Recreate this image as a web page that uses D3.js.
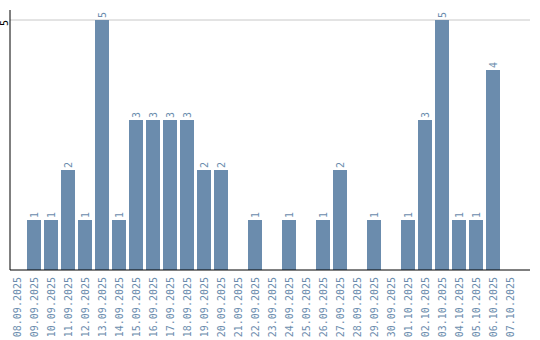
<!DOCTYPE html>
<html>
<head>
<meta charset="utf-8">
<script src="https://cdn.jsdelivr.net/npm/d3@7"></script>
<style>
  body { margin: 0; background: #fff; }
  text { font-family: "DejaVu Sans Mono", monospace; font-size: 10px; }
</style>
</head>
<body>
<svg id="chart" width="540" height="340"></svg>
<script>
var dates = ["08.09.2025", "09.09.2025", "10.09.2025", "11.09.2025", "12.09.2025", "13.09.2025",
  "14.09.2025", "15.09.2025", "16.09.2025", "17.09.2025", "18.09.2025", "19.09.2025",
  "20.09.2025", "21.09.2025", "22.09.2025", "23.09.2025", "24.09.2025", "25.09.2025",
  "26.09.2025", "27.09.2025", "28.09.2025", "29.09.2025", "30.09.2025", "01.10.2025",
  "02.10.2025", "03.10.2025", "04.10.2025", "05.10.2025", "06.10.2025", "07.10.2025"];
var counts = [0, 1, 1, 2, 1, 5, 1, 3, 3, 3, 3, 2, 2, 0, 1, 0, 1, 0, 1, 2, 0, 1, 0, 1, 3, 5, 1, 1, 4, 0];
var yTicks = [5];

var color = "#6b8cad";
var svg = d3.select("#chart");

var x = d3.scaleBand()
  .domain(dates)
  .range([8.5, 518.5])
  .paddingInner(3 / 17)
  .paddingOuter(3 / 34);

var y = d3.scaleLinear().domain([0, 5.2]).range([270, 10]);

// gridline
svg.append("g")
  .selectAll("line")
  .data(yTicks)
  .enter()
  .append("line")
  .attr("x1", 10)
  .attr("x2", 530)
  .attr("y1", d => y(d))
  .attr("y2", d => y(d))
  .attr("stroke", "#c8c8c8");

// bars
svg.append("g")
  .selectAll("rect")
  .data(dates.filter((d, i) => counts[i] > 0))
  .enter()
  .append("rect")
  .attr("x", d => x(d))
  .attr("width", x.bandwidth())
  .attr("y", d => y(counts[dates.indexOf(d)]))
  .attr("height", d => y(0) - y(counts[dates.indexOf(d)]))
  .attr("fill", color);

// value labels
svg.append("g")
  .selectAll("text")
  .data(dates.filter((d, i) => counts[i] > 0))
  .enter()
  .append("text")
  .attr("transform", d => {
    let v = counts[dates.indexOf(d)];
    return "translate(" + (x(d) + x.bandwidth() / 2) + "," + (y(v) - 2) + ") rotate(-90)";
  })
  .attr("dy", "0.35em")
  .attr("fill", color)
  .text(d => counts[dates.indexOf(d)]);

// x axis
var xAxis = svg.append("g")
  .attr("transform", "translate(0," + y(0) + ")")
  .call(d3.axisBottom(x).tickSize(0).tickSizeOuter(0));
xAxis.select(".domain").remove();
xAxis.append("line")
  .attr("x1", 10).attr("x2", 530)
  .attr("stroke", "#000");
xAxis.selectAll(".tick text")
  .attr("font-family", "DejaVu Sans Mono")
  .attr("font-size", 10)
  .attr("fill", color)
  .attr("text-anchor", "end")
  .attr("transform", "rotate(-90)")
  .attr("x", -7)
  .attr("y", 0)
  .attr("dy", "0.35em");

// y axis
var yAxis = svg.append("g")
  .attr("transform", "translate(10,0)")
  .call(d3.axisLeft(y).tickValues(yTicks).tickFormat(d3.format("d")).tickSize(0).tickSizeOuter(0));
yAxis.select(".domain").remove();
yAxis.append("line")
  .attr("y1", 10).attr("y2", 270)
  .attr("stroke", "#000");
yAxis.selectAll(".tick").attr("transform", null);
yAxis.selectAll(".tick text")
  .attr("font-family", "DejaVu Sans Mono")
  .attr("font-size", 10)
  .attr("fill", "#000")
  .attr("text-anchor", "start")
  .attr("transform", "rotate(-90)")
  .attr("x", d => -y(d) - 6)
  .attr("y", -6)
  .attr("dy", "0.35em");
</script>
</body>
</html>
